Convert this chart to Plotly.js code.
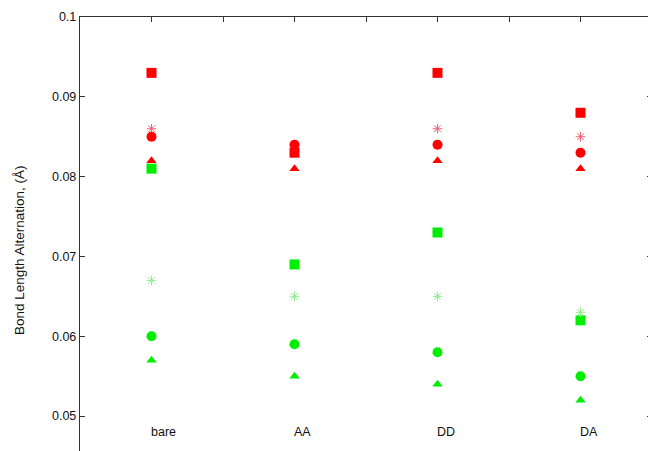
<!DOCTYPE html>
<html>
<head>
<meta charset="utf-8">
<script src="https://cdn.plot.ly/plotly-3.0.1.min.js"></script>
<style>
html, body { margin: 0; padding: 0; overflow: hidden; background: #fff; width: 648px; height: 451px; }
#chart { width: 660px; height: 470px; }
</style>
</head>
<body>
<div id="chart"></div>
<script>
// Categories (placed at x = 1..4)
const categories = ['bare', 'AA', 'DD', 'DA'];
const xPositions = [1, 2, 3, 4];

// Red series
const redSquare   = [0.093, 0.083, 0.093, 0.088];
const redStar     = [0.086, 0.084, 0.086, 0.085];
const redCircle   = [0.085, 0.084, 0.084, 0.083];
const redTriangle = [0.082, 0.081, 0.082, 0.081];

// Green series
const greenSquare   = [0.081, 0.069, 0.073, 0.062];
const greenStar     = [0.067, 0.065, 0.065, 0.063];
const greenCircle   = [0.060, 0.059, 0.058, 0.055];
const greenTriangle = [0.057, 0.055, 0.054, 0.052];

// Y tick labels
const yTickVals = [0.05, 0.06, 0.07, 0.08, 0.09, 0.1];
const yTickText = ['0.05', '0.06', '0.07', '0.08', '0.09', '0.1'];

const yTitle = 'Bond Length Alternation, (Å)';

const RED = '#ff0000', GREEN = '#00ee00';
const RED_STAR = '#f06070', GREEN_STAR = '#90ee90';

function filled(y, symbol, color, size) {
  return { x: xPositions, y: y, type: 'scatter', mode: 'markers', hoverinfo: 'skip',
    marker: { symbol: symbol, color: color, size: size, line: { width: 0 } } };
}
function star(y, color) {
  return { x: xPositions, y: y, type: 'scatter', mode: 'markers', hoverinfo: 'skip',
    marker: { symbol: 'asterisk-open', size: 8, color: color, line: { width: 1, color: color } } };
}

const traces = [
  filled(redSquare, 'square', RED, 10),
  star(redStar, RED_STAR),
  filled(redCircle, 'circle', RED, 10),
  filled(redTriangle, 'triangle-up', RED, 9),
  filled(greenSquare, 'square', GREEN, 10),
  star(greenStar, GREEN_STAR),
  filled(greenCircle, 'circle', GREEN, 10),
  filled(greenTriangle, 'triangle-up', GREEN, 9)
];

const annotations = categories.map((c, i) => ({
  x: xPositions[i], y: 0.048, xref: 'x', yref: 'y', text: c, showarrow: false,
  xanchor: 'left', yanchor: 'middle', xshift: -3,
  font: { family: 'Liberation Sans, Arial, sans-serif', size: 12.5, color: '#111' }
}));
annotations.push({
  x: (19 - 80) / 572, y: (456 - 250) / 439, xref: 'paper', yref: 'paper',
  text: yTitle, showarrow: false, textangle: -90, xanchor: 'center', yanchor: 'middle',
  font: { family: 'Liberation Sans, Arial, sans-serif', size: 13.5, color: '#111' }
});

const layout = {
  width: 660, height: 470,
  margin: { l: 80, r: 8, t: 17, b: 14 },
  paper_bgcolor: '#fff', plot_bgcolor: '#fff',
  showlegend: false,
  font: { family: 'Liberation Sans, Arial, sans-serif', size: 12, color: '#111' },
  xaxis: {
    range: [0.5, 4.5], tickmode: 'linear', tick0: 0.5, dtick: 0.5,
    ticks: 'inside', ticklen: 5, tickwidth: 1, tickcolor: '#333',
    showticklabels: false, showgrid: false, zeroline: false,
    showline: true, linecolor: '#333', linewidth: 1.2, mirror: 'ticks'
  },
  yaxis: {
    range: [0.045, 0.1], tickvals: yTickVals, ticktext: yTickText,
    ticks: 'inside', ticklen: 5, tickwidth: 1, tickcolor: '#333',
    showgrid: false, zeroline: false,
    showline: true, linecolor: '#333', linewidth: 1.2, mirror: 'ticks',
    tickfont: { size: 12.5, color: '#111' }
  },
  annotations: annotations
};

Plotly.newPlot('chart', traces, layout, { displayModeBar: false, staticPlot: true });
</script>
</body>
</html>
